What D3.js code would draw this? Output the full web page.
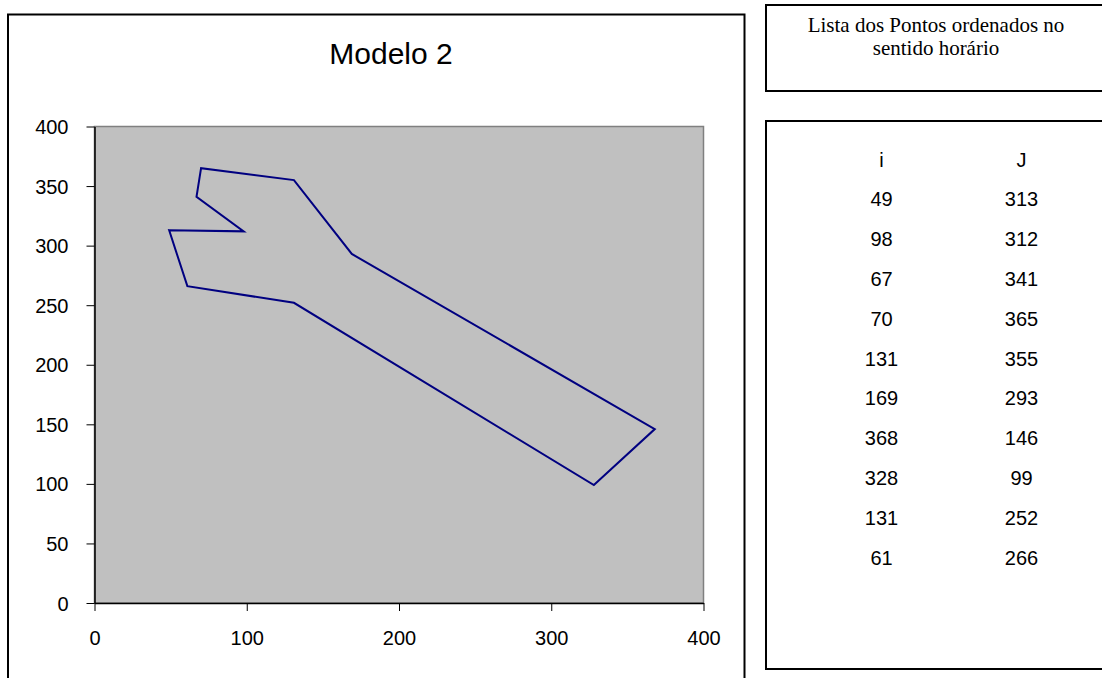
<!DOCTYPE html>
<html lang="pt">
<head>
    <meta charset="UTF-8">
    <title>Modelo 2</title>
    <script src="https://d3js.org/d3.v7.min.js"></script>
    <style>
        body {
            margin: 0;
            padding: 0;
            background: #fff;
            overflow: hidden;
        }
        svg text {
            font-family: Arial, "Liberation Sans", sans-serif;
            fill: #000;
        }
        .note text {
            font-family: "Times New Roman", "Liberation Serif", serif;
        }
    </style>
</head>
<body>
    <div id="chart"></div>
    <script>
        // pontos do polígono (ordem horária)
        const pontosI = [49, 98, 67, 70, 131, 169, 368, 328, 131, 61];
        const pontosJ = [313, 312, 341, 365, 355, 293, 146, 99, 252, 266];
        const ticks = [0, 100, 200, 300, 400];
        const yTicks = [0, 50, 100, 150, 200, 250, 300, 350, 400];
        const titulo = "Modelo 2";
        const nota = ["Lista dos Pontos ordenados no", "sentido horário"];
        const cabecalho = ["i", "J"];

        const width = 1102, height = 678;
        const svg = d3.select("#chart").append("svg")
            .attr("width", width)
            .attr("height", height);

        // caixa do gráfico
        svg.append("rect")
            .attr("x", 8).attr("y", 14.5)
            .attr("width", 736.5).attr("height", 700)
            .attr("fill", "#fff")
            .attr("stroke", "#000")
            .attr("stroke-width", 2);

        svg.append("text")
            .attr("x", 391).attr("y", 64)
            .attr("text-anchor", "middle")
            .style("font-size", "30px")
            .text(titulo);

        const x = d3.scaleLinear().domain([0, 400]).range([94.5, 703.5]);
        const y = d3.scaleLinear().domain([0, 400]).range([603, 126.5]);

        // área de plotagem
        svg.append("rect")
            .attr("x", x(0)).attr("y", y(400))
            .attr("width", x(400) - x(0)).attr("height", y(0) - y(400))
            .attr("fill", "#c0c0c0")
            .attr("stroke", "#808080")
            .attr("stroke-width", 1.5);

        const yAxis = svg.append("g")
            .attr("transform", `translate(${x(0)},0)`)
            .call(d3.axisLeft(y).tickValues(yTicks).tickSize(8).tickPadding(18).tickSizeOuter(0));
        const xAxis = svg.append("g")
            .attr("transform", `translate(0,${y(0)})`)
            .call(d3.axisBottom(x).tickValues(ticks).tickSize(8).tickPadding(20).tickSizeOuter(0));

        [xAxis, yAxis].forEach(g => {
            g.select(".domain").attr("stroke", "#000").attr("stroke-width", 1.5);
            g.selectAll(".tick line").attr("stroke", "#000");
            g.selectAll("text").style("font-size", "20px").style("font-family", "Arial, 'Liberation Sans', sans-serif");
        });
        yAxis.selectAll("text").attr("dy", "0.35em");

        const pontos = pontosI.map((v, k) => [v, pontosJ[k]]);
        const linha = d3.line().x(d => x(d[0])).y(d => y(d[1])).curve(d3.curveLinearClosed);
        svg.append("path")
            .datum(pontos)
            .attr("d", linha)
            .attr("fill", "none")
            .attr("stroke", "#000080")
            .attr("stroke-width", 2)
            .attr("stroke-linejoin", "miter");

        // caixa de texto
        const note = svg.append("g").attr("class", "note");
        note.append("rect")
            .attr("x", 766).attr("y", 5)
            .attr("width", 400).attr("height", 86)
            .attr("fill", "#fff")
            .attr("stroke", "#000")
            .attr("stroke-width", 2);
        note.selectAll("text.l")
            .data(nota)
            .enter().append("text")
            .attr("class", "l")
            .attr("x", 936)
            .attr("y", (d, k) => 32 + k * 23)
            .attr("text-anchor", "middle")
            .style("font-size", "21px")
            .text(d => d);

        // tabela
        svg.append("rect")
            .attr("x", 766).attr("y", 121)
            .attr("width", 400).attr("height", 548)
            .attr("fill", "#fff")
            .attr("stroke", "#000")
            .attr("stroke-width", 2);

        const colX = [881.5, 1021.5];
        const linhas = [cabecalho].concat(pontos);
        const rows = svg.selectAll("g.row")
            .data(linhas)
            .enter().append("g")
            .attr("class", "row")
            .attr("transform", (d, k) => `translate(0,${166.5 + k * 39.8})`);
        rows.selectAll("text")
            .data(d => d)
            .enter().append("text")
            .attr("x", (d, k) => colX[k])
            .attr("text-anchor", "middle")
            .style("font-size", "20px")
            .text(d => d);
    </script>
</body>
</html>
